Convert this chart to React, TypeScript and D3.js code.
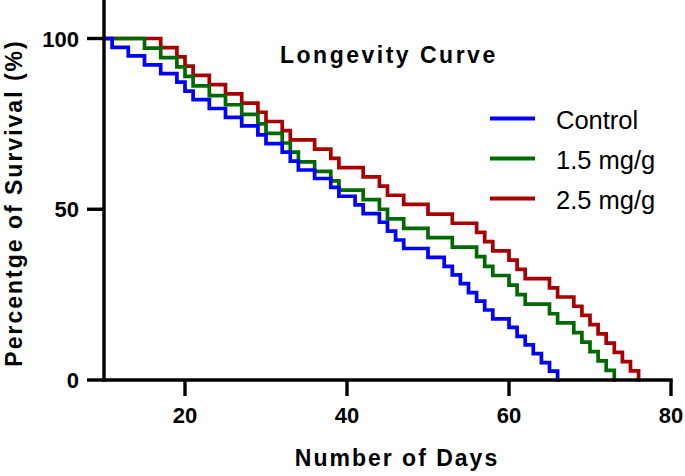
import React from "react";
import * as d3 from "d3";

// ---- Data ----
const START_DAY = 10;
const START_SURVIVAL = 100;

const controlDays = [11, 13, 15, 17, 19, 20, 21, 23, 25, 27, 29, 30, 32, 33, 34, 36, 38, 39, 41, 42, 44, 45, 46, 47, 50, 52, 53, 54, 55, 56, 57, 58, 60, 61, 62, 63, 64, 65, 66];
const controlSurvival = [97.4, 94.9, 92.3, 89.7, 87.2, 84.6, 82.1, 79.5, 76.9, 74.4, 71.8, 69.2, 66.7, 64.1, 61.5, 59.0, 56.4, 53.8, 51.3, 48.7, 46.2, 43.6, 41.0, 38.5, 35.9, 33.3, 30.8, 28.2, 25.6, 23.1, 20.5, 17.9, 15.4, 12.8, 10.3, 7.7, 5.1, 2.6, 0];

const lowDoseDays = [15, 17, 19, 20, 21, 23, 25, 27, 29, 30, 32, 33, 34, 36, 38, 39, 42, 44, 45, 47, 50, 53, 56, 57, 58, 60, 61, 62, 65, 66, 68, 69, 70, 71, 72, 73];
const lowDoseSurvival = [97.2, 94.4, 91.7, 88.9, 86.1, 83.3, 80.6, 77.8, 75.0, 72.2, 69.4, 66.7, 63.9, 61.1, 58.3, 55.6, 52.8, 50.0, 47.2, 44.4, 41.7, 38.9, 36.1, 33.3, 30.6, 27.8, 25.0, 22.2, 19.4, 16.7, 13.9, 11.1, 8.3, 5.6, 2.8, 0];

const highDoseDays = [17, 19, 20, 21, 23, 25, 27, 29, 30, 32, 33, 36, 38, 39, 42, 44, 45, 47, 50, 53, 56, 57, 58, 60, 61, 62, 65, 66, 68, 69, 70, 71, 72, 73, 74, 75, 76];
const highDoseSurvival = [97.3, 94.6, 91.9, 89.2, 86.5, 83.8, 81.1, 78.4, 75.7, 73.0, 70.3, 67.6, 64.9, 62.2, 59.5, 56.8, 54.1, 51.4, 48.6, 45.9, 43.2, 40.5, 37.8, 35.1, 32.4, 29.7, 27.0, 24.3, 21.6, 18.9, 16.2, 13.5, 10.8, 8.1, 5.4, 2.7, 0];

const seriesLabels = ["Control", "1.5 mg/g", "2.5 mg/g"];
const seriesColors = ["#0000ff", "#006a00", "#a80000"];

const xTicks = [20, 40, 60, 80];
const yTicks = [0, 50, 100];

const chartTitle = "Longevity Curve";
const xTitle = "Number of Days";
const yTitle = "Percentge of Survival (%)";

// ---- Layout ----
const W = 685;
const H = 476;
const FONT = "'Liberation Sans', Arial, Helvetica, sans-serif";

const x = d3.scaleLinear().domain([10, 80]).range([104, 671]);
const y = d3.scaleLinear().domain([0, 100]).range([380, 38.5]);

type Pt = [number, number];

function buildSeries(days: number[], surv: number[]): Pt[] {
  const pts: Pt[] = [[START_DAY, START_SURVIVAL]];
  days.forEach((d, i) => pts.push([d, surv[i]]));
  return pts;
}

const series = [
  buildSeries(controlDays, controlSurvival),
  buildSeries(lowDoseDays, lowDoseSurvival),
  buildSeries(highDoseDays, highDoseSurvival),
];

const line = d3
  .line<Pt>()
  .x((d) => x(d[0]))
  .y((d) => y(d[1]))
  .curve(d3.curveStepAfter);

export default function App() {
  const axisW = 3.4;
  const x0 = x.range()[0];
  const y0 = y.range()[0];
  const drawOrder = [2, 1, 0];
  return (
    <svg
      width={W}
      height={H}
      viewBox={`0 0 ${W} ${H}`}
      style={{ position: "absolute", left: 0, top: 0, background: "#fff" }}
      fontFamily={FONT}
    >
      {/* curves */}
      {drawOrder.map((i) => (
        <path
          key={i}
          d={line(series[i]) || ""}
          fill="none"
          stroke={seriesColors[i]}
          strokeWidth={3.7}
          strokeLinejoin="miter"
          strokeLinecap="square"
        />
      ))}

      {/* Y axis */}
      <line x1={x0} x2={x0} y1={0} y2={y0 + axisW / 2} stroke="#000" strokeWidth={axisW} />
      {yTicks.map((t) => (
        <g key={"y" + t}>
          <line x1={x0 - 17} x2={x0} y1={y(t)} y2={y(t)} stroke="#000" strokeWidth={axisW} />
          <text
            x={79}
            y={y(t) + 8}
            textAnchor="end"
            fontSize={22}
            fontWeight="bold"
            fill="#000"
          >
            {t}
          </text>
        </g>
      ))}

      {/* X axis */}
      <line x1={x0 - axisW / 2} x2={x(80) + axisW / 2} y1={y0} y2={y0} stroke="#000" strokeWidth={axisW} />
      {xTicks.map((t) => (
        <g key={"x" + t}>
          <line x1={x(t)} x2={x(t)} y1={y0} y2={y0 + 16} stroke="#000" strokeWidth={axisW} />
          <text x={x(t)} y={423} textAnchor="middle" fontSize={22} fontWeight="bold" fill="#000">
            {t}
          </text>
        </g>
      ))}

      {/* Axis titles */}
      <text
        x={397}
        y={466}
        textAnchor="middle"
        fontSize={23}
        fontWeight="bold"
        letterSpacing={2}
        fill="#000"
      >
        {xTitle}
      </text>
      <text
        transform="translate(22,203) rotate(-90)"
        textAnchor="middle"
        fontSize={23}
        fontWeight="bold"
        letterSpacing={2}
        fill="#000"
      >
        {yTitle}
      </text>

      {/* Chart title */}
      <text x={280} y={63} fontSize={23} fontWeight="bold" letterSpacing={2.5} fill="#000">
        {chartTitle}
      </text>

      {/* Legend */}
      {seriesLabels.map((lab, i) => {
        const by = 128.5 + i * 40;
        return (
          <g key={lab}>
            <line x1={490} x2={535} y1={by - 10} y2={by - 10} stroke={seriesColors[i]} strokeWidth={4} />
            <text x={556} y={by} fontSize={25.5} fill="#000">
              {lab}
            </text>
          </g>
        );
      })}
    </svg>
  );
}
